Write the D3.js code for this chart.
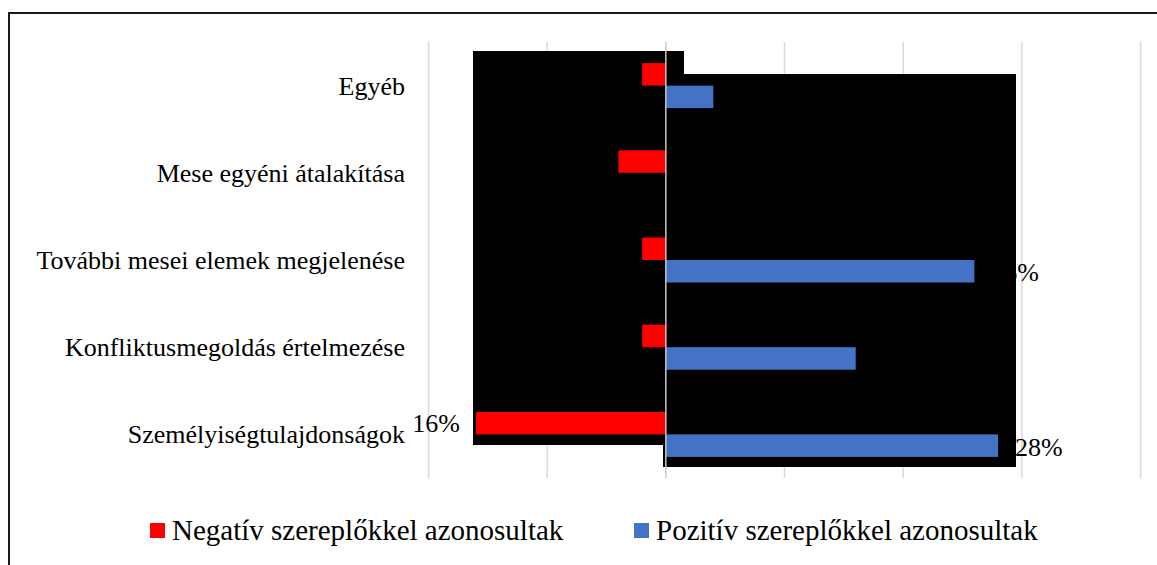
<!DOCTYPE html>
<html>
<head>
<meta charset="utf-8">
<script src="https://cdn.jsdelivr.net/npm/d3@7"></script>
<style>
  html, body { margin: 0; padding: 0; background: #fff; }
</style>
</head>
<body>
<svg id="chart" width="1157" height="565"></svg>
<script>
// data (percent)
const categories = ['Egyéb', 'Mese egyéni átalakítása', 'További mesei elemek megjelenése',
                    'Konfliktusmegoldás értelmezése', 'Személyiségtulajdonságok'];
const negativ = [2, 4, 2, 2, 16];
const pozitiv = [4, 0, 26, 16, 28];
const seriesNames = ['Negatív szereplőkkel azonosultak', 'Pozitív szereplőkkel azonosultak'];
const seriesColors = ['#ff0000', '#4472c4'];
const xTicks = [-20, -10, 0, 10, 20, 30, 40];

const serif = "'Times New Roman', Tinos, 'Liberation Serif', 'Nimbus Roman', FreeSerif, 'Noto Serif', 'DejaVu Serif', Georgia, serif";
const svg = d3.select('#chart').attr('font-family', serif);

const x = d3.scaleLinear().domain([-20, 40]).range([428.5, 1140.5]);
const y = d3.scaleBand().domain(categories).range([42, 478]);
const barH = 22.5;

// frame
svg.append('path')
    .attr('d', 'M9,565 V13 H1157')
    .attr('fill', 'none')
    .attr('stroke', '#1a1a1a')
    .attr('stroke-width', 2);

// gridlines
svg.append('g')
    .selectAll('line')
    .data(xTicks.filter(d => d !== 0))
    .enter().append('line')
    .attr('x1', d => x(d)).attr('x2', d => x(d))
    .attr('y1', y.range()[0]).attr('y2', y.range()[1])
    .attr('stroke', '#d9d9d9')
    .attr('stroke-width', 1.5);

// category labels
svg.append('g')
    .selectAll('text')
    .data(categories)
    .enter().append('text')
    .attr('x', 405)
    .attr('y', d => y(d) + y.bandwidth() / 2 + 9)
    .attr('text-anchor', 'end')
    .attr('font-size', 26)
    .attr('fill', '#000')
    .text(d => d);

// value labels
const lbl = svg.append('g').attr('font-size', 26).attr('fill', '#000');
lbl.selectAll('text.neg')
    .data(categories)
    .enter().append('text')
    .attr('x', (d, i) => x(-negativ[i]) - 16)
    .attr('y', d => y(d) + y.bandwidth() / 2 - barH / 2 + 9)
    .attr('text-anchor', 'end')
    .text((d, i) => negativ[i] + '%');
lbl.selectAll('text.pos')
    .data(categories)
    .enter().append('text')
    .attr('x', (d, i) => x(pozitiv[i]) + 17)
    .attr('y', d => y(d) + y.bandwidth() / 2 + barH / 2 + 10)
    .text((d, i) => pozitiv[i] + '%');

// black redaction block present in the source image
svg.append('path')
    .attr('d', 'M473,51 H684 V74 H1016 V467 H663 V445 H473 Z')
    .attr('fill', '#000');

// bars
const bars = svg.append('g');
bars.selectAll('rect.neg')
    .data(categories)
    .enter().append('rect')
    .attr('x', (d, i) => x(-negativ[i]))
    .attr('width', (d, i) => x(0) - x(-negativ[i]))
    .attr('y', d => y(d) + y.bandwidth() / 2 - barH)
    .attr('height', barH)
    .attr('fill', seriesColors[0]);
bars.selectAll('rect.pos')
    .data(categories)
    .enter().append('rect')
    .attr('x', x(0))
    .attr('width', (d, i) => x(pozitiv[i]) - x(0))
    .attr('y', d => y(d) + y.bandwidth() / 2)
    .attr('height', barH)
    .attr('fill', seriesColors[1]);

// zero axis
svg.append('line')
    .attr('x1', x(0)).attr('x2', x(0))
    .attr('y1', y.range()[0]).attr('y2', y.range()[1])
    .attr('stroke', '#c8c8c8')
    .attr('stroke-width', 1.5);

// legend
const legendX = [150, 634];
const lg = svg.append('g').selectAll('g')
    .data(seriesNames)
    .enter().append('g')
    .attr('transform', (d, i) => 'translate(' + legendX[i] + ',523)');
lg.append('rect')
    .attr('width', 15).attr('height', 15)
    .attr('fill', (d, i) => seriesColors[i]);
lg.append('text')
    .attr('x', 22)
    .attr('y', 17)
    .attr('font-size', 29)
    .attr('fill', '#000')
    .text(d => d);
</script>
</body>
</html>
